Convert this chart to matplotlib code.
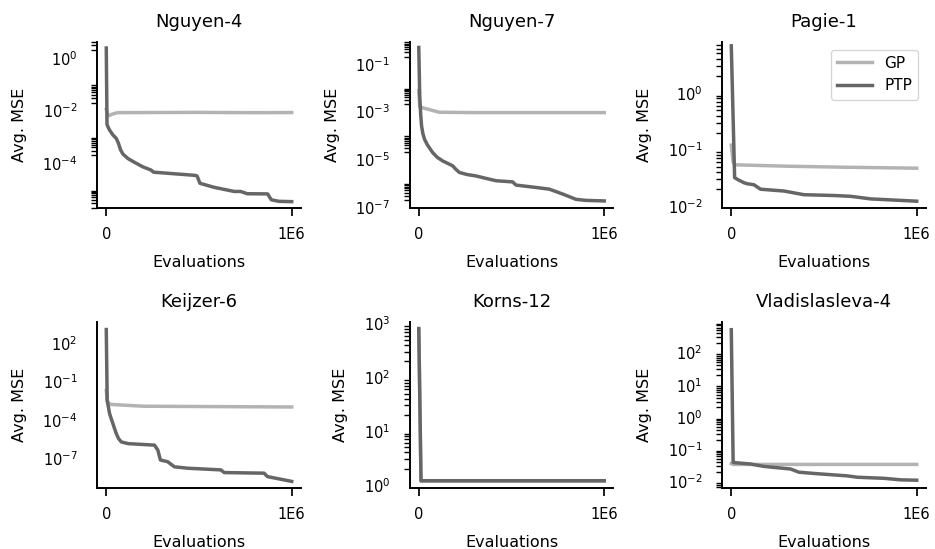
import math
import matplotlib
matplotlib.use("Agg")
import matplotlib.pyplot as plt
from matplotlib.ticker import FixedLocator, FuncFormatter, NullFormatter

plt.rcParams['font.family'] = ['DejaVu Sans']

# ---------------- data ----------------
titles = ["Nguyen-4", "Nguyen-7", "Pagie-1", "Keijzer-6", "Korns-12", "Vladislasleva-4"]

# Nguyen-4
n4_gp_x = [0, 10e3, 30e3, 60e3, 200e3, 500e3, 800e3, 1e6]
n4_gp_y = [1.1e-2, 6.2e-3, 7.2e-3, 8.3e-3, 8.4e-3, 8.5e-3, 8.3e-3, 8.4e-3]
n4_ptp_x = [0, 4e3, 9e3, 18e3, 36e3, 54e3, 66e3, 77e3, 90e3, 116e3, 152e3, 197e3, 242e3, 255e3,
            370e3, 480e3, 490e3, 505e3, 580e3, 690e3, 725e3, 760e3, 870e3, 890e3, 930e3, 1e6]
n4_ptp_y = [2.4, 3.0e-3, 2.4e-3, 1.8e-3, 1.17e-3, 8.7e-4, 5.6e-4, 3.2e-4, 2.2e-4, 1.5e-4, 1.07e-4,
            7.2e-5, 5.4e-5, 4.5e-5,
            3.9e-5, 3.4e-5, 3.2e-5, 1.7e-5, 1.2e-5, 8.3e-6, 8.3e-6, 6.8e-6, 6.7e-6, 4.0e-6, 3.5e-6, 3.4e-6]

# Nguyen-7
n7_gp_x = [0, 5e3, 13e3, 40e3, 110e3, 300e3, 1e6]
n7_gp_y = [7.5e-3, 1.6e-3, 1.5e-3, 1.3e-3, 9.3e-4, 9.0e-4, 9.0e-4]
n7_ptp_x = [0, 5e3, 10e3, 15e3, 22e3, 31e3, 45e3, 60e3, 75e3, 100e3, 129e3, 160e3, 183e3, 200e3,
            219e3, 260e3, 309e3, 360e3, 417e3, 506e3, 524e3, 632e3, 704e3, 776e3, 848e3, 900e3, 1e6]
n7_ptp_y = [0.48, 5e-3, 8e-4, 2.5e-4, 1.2e-4, 6.9e-5, 4.2e-5, 2.8e-5, 1.9e-5, 1.2e-5, 8.5e-6, 6.5e-6,
            5.3e-6, 3.8e-6, 2.8e-6, 2.3e-6, 2.0e-6, 1.6e-6, 1.26e-6, 1.13e-6, 8.3e-7,
            6.6e-7, 5.6e-7, 3.5e-7, 2.1e-7, 1.9e-7, 1.8e-7]

# Pagie-1
p1_gp_x = [0, 10e3, 20e3, 300e3, 600e3, 1e6]
p1_gp_y = [0.12, 0.06, 0.054, 0.051, 0.049, 0.047]
p1_ptp_x = [0, 18e3, 40e3, 69e3, 86e3, 122e3, 158e3, 220e3, 284e3, 392e3, 554e3, 644e3, 752e3, 1e6]
p1_ptp_y = [6.8, 0.032, 0.029, 0.026, 0.025, 0.024, 0.020, 0.0193, 0.0186, 0.016, 0.0155, 0.015,
            0.0135, 0.0123]

# Keijzer-6
k6_gp_x = [0, 5e3, 20e3, 200e3, 1e6]
k6_gp_y = [1.9e-2, 3e-3, 1.6e-3, 1.15e-3, 1.0e-3]
k6_ptp_x = [0, 5e3, 12e3, 18e3, 27e3, 36e3, 45e3, 54e3, 66e3, 81e3, 118e3, 260e3, 278e3, 292e3,
            331e3, 367e3, 439e3, 618e3, 636e3, 851e3, 869e3, 1e6]
k6_ptp_y = [1080, 3.2e-3, 9e-4, 3e-4, 1.2e-4, 5e-5, 2e-5, 8.5e-6, 3.5e-6, 1.9e-6, 1.4e-6, 1.07e-6,
            4.4e-7, 7.4e-8, 5.5e-8, 2.2e-8, 1.7e-8, 1.26e-8, 7.8e-9, 7e-9, 3.8e-9, 1.6e-9]

# Korns-12
k12_gp_x = [0, 12e3, 1e6]
k12_gp_y = [790, 1.17, 1.17]
k12_ptp_x = [0, 12e3, 1e6]
k12_ptp_y = [810, 1.19, 1.19]

# Vladislasleva-4
v4_gp_x = [0, 10e3, 500e3, 1e6]
v4_gp_y = [0.036, 0.034, 0.034, 0.034]
v4_ptp_x = [0, 10e3, 104e3, 176e3, 320e3, 365e3, 464e3, 626e3, 680e3, 824e3, 914e3, 1e6]
v4_ptp_y = [515, 0.039, 0.035, 0.0295, 0.0245, 0.0195, 0.0175, 0.015, 0.0136, 0.0126, 0.0113, 0.011]

gp_series = [(n4_gp_x, n4_gp_y), (n7_gp_x, n7_gp_y), (p1_gp_x, p1_gp_y),
             (k6_gp_x, k6_gp_y), (k12_gp_x, k12_gp_y), (v4_gp_x, v4_gp_y)]
ptp_series = [(n4_ptp_x, n4_ptp_y), (n7_ptp_x, n7_ptp_y), (p1_ptp_x, p1_ptp_y),
              (k6_ptp_x, k6_ptp_y), (k12_ptp_x, k12_ptp_y), (v4_ptp_x, v4_ptp_y)]

# axis configuration (log10 exponents)
ylims_exp = [(-5.71, 0.61), (-7.04, -0.09), (-2.03, 0.90), (-9.31, 3.62), (-0.06, 3.03), (-2.20, 2.95)]
major_exps = [[0, -2, -4], [-1, -3, -5, -7], [0, -1, -2], [2, -1, -4, -7], [0, 1, 2, 3], [2, 1, 0, -1, -2]]
minor_decades = [[0, -2, -4, -6], [-1, -3, -5, -7], [0, -1, -2], [], [0, 1, 2, 3], [2, 1, 0, -1, -2, -3]]
xtick_vals = [0, 1e6]
xtick_labels = ["0", "1E6"]

GP_COLOR = "#b3b3b3"
PTP_COLOR = "#666666"

fig, axes = plt.subplots(2, 3, figsize=(9.35, 5.49), dpi=100)
fig.subplots_adjust(left=97 / 935, right=926 / 935, bottom=1 - 488 / 549, top=1 - 42 / 549,
                    wspace=0.532, hspace=0.687)


def sci_label(v, pos):
    return r"$\mathdefault{10^{%d}}$" % round(math.log10(v))


for i, ax in enumerate(axes.flat):
    gx, gy = gp_series[i]
    px, py = ptp_series[i]
    ax.plot(gx, gy, color=GP_COLOR, lw=2.5, label="GP")
    ax.plot(px, py, color=PTP_COLOR, lw=2.5, label="PTP")
    ax.set_yscale("log")
    lo, hi = ylims_exp[i]
    ax.set_ylim(10 ** lo, 10 ** hi)
    ax.set_xlim(-50000, 1050000)

    ax.yaxis.set_major_locator(FixedLocator([10.0 ** e for e in major_exps[i]]))
    ax.yaxis.set_major_formatter(FuncFormatter(sci_label))
    mins = [s * 10.0 ** d for d in minor_decades[i] for s in range(2, 10)]
    ax.yaxis.set_minor_locator(FixedLocator(mins))
    ax.yaxis.set_minor_formatter(NullFormatter())

    ax.set_xticks(xtick_vals)
    ax.set_xticklabels(xtick_labels)
    ax.xaxis.set_minor_locator(FixedLocator([]))

    for side in ("top", "right"):
        ax.spines[side].set_visible(False)
    for side in ("left", "bottom"):
        ax.spines[side].set_linewidth(1.4)

    ax.tick_params(axis="x", which="major", length=6, width=1.25, pad=8, labelsize=10.5)
    ax.tick_params(axis="y", which="major", length=0, pad=14, labelsize=10.5)
    ax.tick_params(axis="y", which="minor", length=4, width=1.0)

    ax.set_title(titles[i], fontsize=13, pad=11)
    ax.set_xlabel("Evaluations", fontsize=11.5, labelpad=9)
    ax.set_ylabel("Avg. MSE", fontsize=11.5, labelpad=11)

axes.flat[2].legend(loc="upper right", fontsize=11, handlelength=2.3)

fig.savefig("out.png", dpi=100)
